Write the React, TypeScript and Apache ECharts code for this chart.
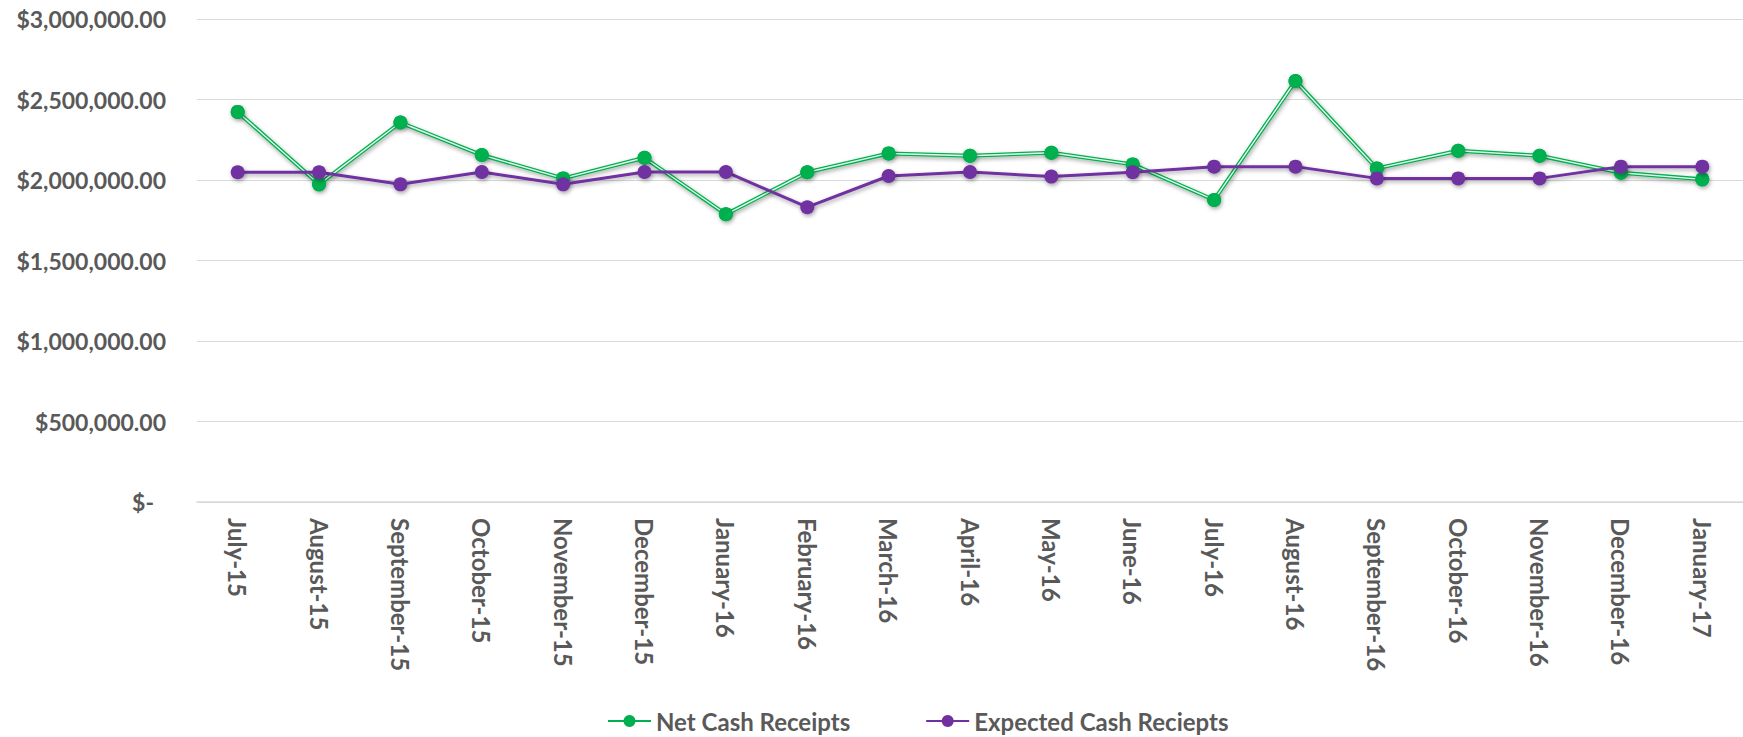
import React, { useEffect, useRef } from "react";
import * as echarts from "echarts";

const categories = [
  "July-15", "August-15", "September-15", "October-15", "November-15", "December-15",
  "January-16", "February-16", "March-16", "April-16", "May-16", "June-16",
  "July-16", "August-16", "September-16", "October-16", "November-16", "December-16", "January-17",
];

const netCashReceipts = [
  2423000, 1973000, 2357000, 2155000, 2010000, 2138000, 1787000, 2048000, 2165000, 2151000,
  2169000, 2097000, 1876000, 2615000, 2072000, 2182000, 2151000, 2045000, 2004000,
];

const expectedCashReceipts = [
  2048000, 2048000, 1973000, 2050000, 1973000, 2050000, 2050000, 1831000, 2025000, 2050000,
  2021000, 2048000, 2083000, 2083000, 2010000, 2010000, 2010000, 2083000, 2083000,
];

const seriesNames = ["Net Cash Receipts", "Expected Cash Reciepts"];

const GREEN = "#00B050";
const PURPLE = "#7030A0";
const TEXT = "#595959";
const FONT = "Lato";

function fmtMoney(v: number): string {
  if (v === 0) return "{z|$-}";
  const s = v.toFixed(2);
  const [int, dec] = s.split(".");
  const withCommas = int.replace(/\B(?=(\d{3})+(?!\d))/g, ",");
  return "$" + withCommas + "." + dec;
}

export default function App() {
  const ref = useRef<HTMLDivElement>(null);

  useEffect(() => {
    if (!ref.current) return;
    const chart = echarts.init(ref.current, null, { renderer: "svg" });
    const shadow = {
      shadowBlur: 4,
      shadowColor: "rgba(0,0,0,0.35)",
      shadowOffsetX: 1,
      shadowOffsetY: 2,
    };
    chart.setOption({
      animation: false,
      backgroundColor: "#ffffff",
      textStyle: { fontFamily: FONT },
      grid: { left: 197, right: 0, top: 19, bottom: 235, containLabel: false },
      legend: {
        data: seriesNames,
        left: 602,
        top: 704,
        itemWidth: 43,
        itemHeight: 15,
        itemGap: 75,
        textStyle: { color: TEXT, fontSize: 24, fontWeight: "bold", fontFamily: FONT, lineHeight: 24 },
      },
      xAxis: {
        type: "category",
        data: categories,
        boundaryGap: true,
        axisLine: { show: true, lineStyle: { color: "#D9D9D9", width: 1.5 } },
        axisTick: { show: false },
        axisLabel: {
          rotate: -90,
          margin: 16,
          interval: 0,
          color: TEXT,
          fontSize: 24,
          fontWeight: "bold",
          fontFamily: FONT,
        },
      },
      yAxis: {
        type: "value",
        min: 0,
        max: 3000000,
        interval: 500000,
        axisLine: { show: false },
        axisTick: { show: false },
        splitLine: { lineStyle: { color: "#D9D9D9", width: 1 } },
        axisLabel: {
          margin: 31,
          color: TEXT,
          fontSize: 23,
          fontWeight: "bold",
          fontFamily: FONT,
          formatter: (v: number) => fmtMoney(v),
          rich: {
            z: {
              color: TEXT,
              fontSize: 23,
              fontWeight: "bold",
              fontFamily: FONT,
              padding: [0, 12, 0, 0],
            },
          },
        },
      },
      series: [
        {
          name: seriesNames[0],
          type: "line",
          data: netCashReceipts,
          z: 2,
          symbol: "circle",
          symbolSize: 14,
          showSymbol: true,
          lineStyle: { color: GREEN, width: 4, ...shadow },
          itemStyle: { color: GREEN },
        },
        {
          name: "_netInner",
          type: "line",
          data: netCashReceipts,
          z: 2,
          showSymbol: false,
          symbol: "none",
          silent: true,
          lineStyle: { color: "#E8F8EE", width: 1.4 },
          itemStyle: { color: GREEN },
        },
        {
          name: "_netMarkers",
          type: "line",
          data: netCashReceipts,
          z: 3,
          symbol: "circle",
          symbolSize: 14,
          silent: true,
          lineStyle: { opacity: 0, width: 0 },
          itemStyle: { color: GREEN, ...shadow },
        },
        {
          name: seriesNames[1],
          type: "line",
          data: expectedCashReceipts,
          z: 4,
          symbol: "circle",
          symbolSize: 14,
          lineStyle: { color: PURPLE, width: 3, ...shadow },
          itemStyle: { color: PURPLE, ...shadow },
        },
      ],
    });
    return () => chart.dispose();
  }, []);

  return (
    <div
      ref={ref}
      style={{ position: "fixed", left: 0, top: 0, width: 1743, height: 737, background: "#fff" }}
    />
  );
}
